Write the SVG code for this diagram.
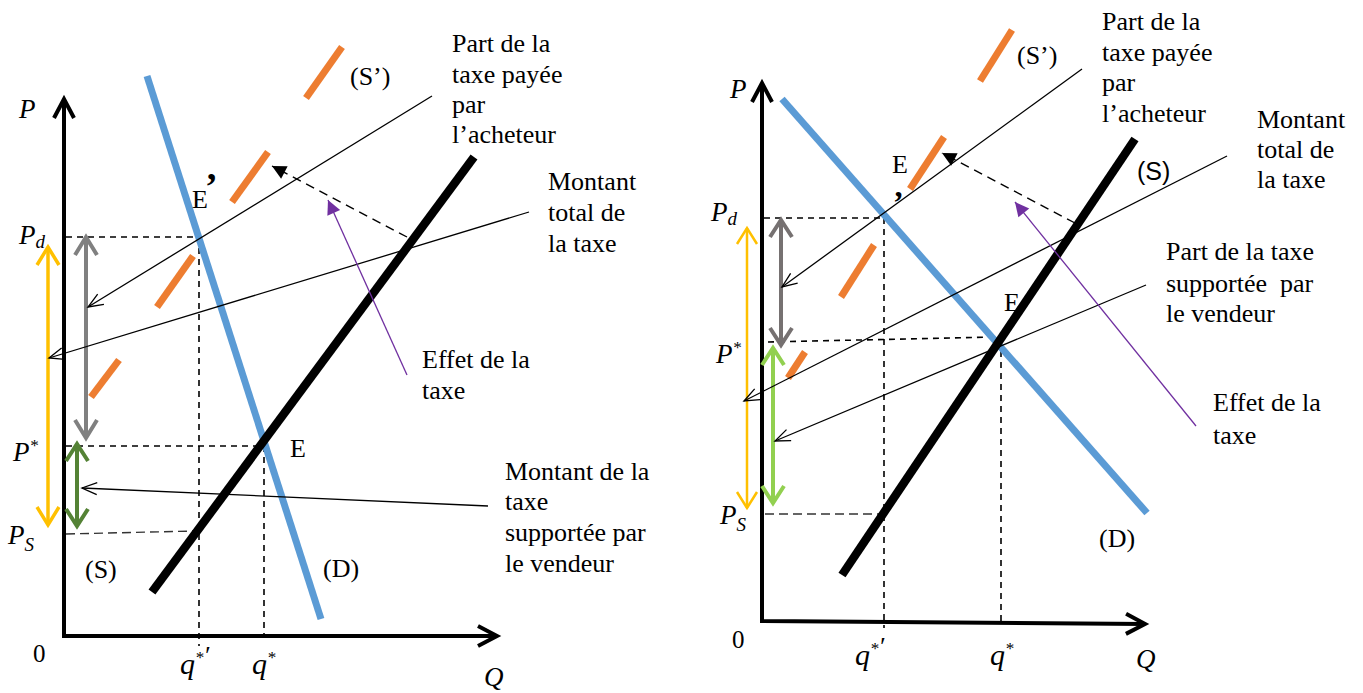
<svg xmlns="http://www.w3.org/2000/svg" width="1363" height="693" viewBox="0 0 1363 693">
<style>
.lbl{font-family:"Liberation Serif","Times New Roman",serif;font-size:26px;fill:#000;white-space:pre}
.math{font-family:"Liberation Serif","Times New Roman",serif;font-style:italic;font-size:27px;fill:#000}
.sans{font-family:"Liberation Sans",Arial,sans-serif;font-size:25px;fill:#000}
.axis{stroke:#000;stroke-width:4;fill:none;stroke-linejoin:miter}
.dash{stroke:#000;stroke-width:1.6;stroke-dasharray:6 5;fill:none}
.dashL{stroke:#333;stroke-width:1.4;stroke-dasharray:9 5;fill:none}
.D{stroke:#5B9BD5;stroke-width:7}
.S{stroke:#000;stroke-width:8.5}
.Sp{stroke:#ED7D31;stroke-width:7}
.conn{stroke:#000;stroke-width:1.3;fill:none}
.eff{stroke:#7030A0;stroke-width:1.3;fill:none}
.shift{stroke:#000;stroke-width:1.4;stroke-dasharray:9 6;fill:none}
.yel{stroke:#FFC000;stroke-width:3.5}
.yelT{stroke:#FFC000;stroke-width:2.5}
.gry{stroke:#808080;stroke-width:4}
.gryR{stroke:#767171;stroke-width:4}
.grn{stroke:#548235;stroke-width:4}
.lgrn{stroke:#92D050;stroke-width:4}
.sub{font-size:19px}
.sup{font-size:17px}
.q{font-size:30px}
.zero{font-size:25px}
.prime{font-weight:bold}
</style>
<defs>
<marker id="axh" markerUnits="userSpaceOnUse" markerWidth="40" markerHeight="40" refX="0" refY="0" orient="auto-start-reverse" overflow="visible"><path d="M-19,-10 L0,0 L-19,10" fill="none" stroke="#000" stroke-width="4"/></marker>
<marker id="open" markerUnits="userSpaceOnUse" markerWidth="30" markerHeight="30" refX="0" refY="0" orient="auto" overflow="visible"><path d="M-15,-6 L0,0 L-15,6" fill="none" stroke="#000" stroke-width="1.3"/></marker>
<marker id="triP" markerUnits="userSpaceOnUse" markerWidth="30" markerHeight="30" refX="0" refY="0" orient="auto" overflow="visible"><path d="M-14,-7 L0,0 L-14,7 Z" fill="#7030A0"/></marker>
<marker id="triK" markerUnits="userSpaceOnUse" markerWidth="30" markerHeight="30" refX="0" refY="0" orient="auto" overflow="visible"><path d="M-14,-7 L0,0 L-14,7 Z" fill="#000"/></marker>
<marker id="chY" markerUnits="userSpaceOnUse" markerWidth="40" markerHeight="40" refX="0" refY="0" orient="auto-start-reverse" overflow="visible"><path d="M-18,-11 L0,0 L-18,11" fill="none" stroke="#FFC000" stroke-width="3.5"/></marker>
<marker id="chYT" markerUnits="userSpaceOnUse" markerWidth="40" markerHeight="40" refX="0" refY="0" orient="auto-start-reverse" overflow="visible"><path d="M-16,-10 L0,0 L-16,10" fill="none" stroke="#FFC000" stroke-width="2.5"/></marker>
<marker id="chG" markerUnits="userSpaceOnUse" markerWidth="40" markerHeight="40" refX="0" refY="0" orient="auto-start-reverse" overflow="visible"><path d="M-18,-11 L0,0 L-18,11" fill="none" stroke="#808080" stroke-width="4"/></marker>
<marker id="chGR" markerUnits="userSpaceOnUse" markerWidth="40" markerHeight="40" refX="0" refY="0" orient="auto-start-reverse" overflow="visible"><path d="M-17,-11 L0,0 L-17,11" fill="none" stroke="#767171" stroke-width="4"/></marker>
<marker id="chN" markerUnits="userSpaceOnUse" markerWidth="40" markerHeight="40" refX="0" refY="0" orient="auto-start-reverse" overflow="visible"><path d="M-17,-11 L0,0 L-17,11" fill="none" stroke="#548235" stroke-width="4"/></marker>
<marker id="chL" markerUnits="userSpaceOnUse" markerWidth="40" markerHeight="40" refX="0" refY="0" orient="auto-start-reverse" overflow="visible"><path d="M-17,-11 L0,0 L-17,11" fill="none" stroke="#92D050" stroke-width="4"/></marker>
</defs>

<!-- ============ LEFT CHART ============ -->
<g id="left-axes">
<path class="axis" d="M64,99 L64,636 L497,636" marker-start="url(#axh)" marker-end="url(#axh)"/>
<text class="math" x="19" y="118">P</text>
<text class="math" x="19" y="244">P<tspan class="sub" dy="4">d</tspan></text>
<text class="math" x="13" y="461">P<tspan class="sup" dy="-10">*</tspan></text>
<text class="math" x="8" y="544">P<tspan class="sub" dy="7">S</tspan></text>
<text class="lbl zero" x="33" y="662">0</text>
<text class="math q" x="180" y="674">q<tspan class="sup" dy="-11">*</tspan><tspan dy="1" style="font-size:26px">′</tspan></text>
<text class="math q" x="252" y="674">q<tspan class="sup" dy="-11">*</tspan></text>
<text class="math" x="484" y="686">Q</text>
</g>
<g id="left-guides">
<path class="dash" d="M66,237 H200"/>
<path class="dash" d="M199,237 V646"/>
<path class="dash" d="M66,446 H263"/>
<path class="dash" d="M264,446 V636"/>
<path class="dashL" d="M66,534 L195,531"/>
</g>
<g id="left-demand">
<line class="D" x1="147" y1="76" x2="321" y2="619"/>
<text class="lbl" x="323" y="577">(D)</text>
</g>
<g id="left-supply">
<line class="S" x1="152" y1="592" x2="474" y2="157"/>
<text class="lbl" x="85" y="578">(S)</text>
</g>
<g id="left-supply-tax">
<line class="Sp" x1="306" y1="98" x2="342" y2="47"/>
<line class="Sp" x1="232" y1="202" x2="268" y2="152"/>
<line class="Sp" x1="157" y1="307" x2="193" y2="256"/>
<line class="Sp" x1="91" y1="397" x2="119" y2="360"/>
<text class="lbl" x="350" y="85">(S’)</text>
</g>
<g id="left-eq">
<text class="lbl" x="192" y="208">E<tspan class="prime" dx="-3" dy="-9" style="font-size:38px">’</tspan></text>
<text class="lbl" x="290" y="457">E</text>
</g>
<g id="left-brackets">
<line class="yel" x1="48" y1="247" x2="48" y2="525" marker-start="url(#chY)" marker-end="url(#chY)"/>
<line class="gry" x1="86" y1="237" x2="86" y2="438" marker-start="url(#chG)" marker-end="url(#chG)"/>
<line class="grn" x1="77" y1="444" x2="77" y2="526" marker-start="url(#chN)" marker-end="url(#chN)"/>
</g>
<g id="left-labels">
<text class="lbl"><tspan x="452" y="52">Part de la</tspan><tspan x="452" y="83">taxe payée</tspan><tspan x="452" y="113">par</tspan><tspan x="452" y="143">l’acheteur</tspan></text>
<text class="lbl"><tspan x="548" y="190">Montant</tspan><tspan x="548" y="221">total de</tspan><tspan x="548" y="252">la taxe</tspan></text>
<text class="lbl"><tspan x="422" y="368">Effet de la</tspan><tspan x="422" y="399">taxe</tspan></text>
<text class="lbl"><tspan x="505" y="480">Montant de la</tspan><tspan x="505" y="510">taxe</tspan><tspan x="505" y="541">supportée par</tspan><tspan x="505" y="572">le vendeur</tspan></text>
</g>
<g id="left-connectors">
<path class="conn" d="M432,96 L88,307" marker-end="url(#open)"/>
<path class="conn" d="M529,212 L49,358" marker-end="url(#open)"/>
<path class="conn" d="M488,506 L82,488" marker-end="url(#open)"/>
<path class="eff" d="M407,375 L328,200" marker-end="url(#triP)"/>
<path class="shift" d="M407,237 L272,166" marker-end="url(#triK)"/>
</g>

<!-- ============ RIGHT CHART ============ -->
<g id="right-axes">
<path class="axis" d="M762,83 L762,621 L1145,624" marker-start="url(#axh)" marker-end="url(#axh)"/>
<text class="math" x="730" y="98">P</text>
<text class="math" x="711" y="221">P<tspan class="sub" dy="4">d</tspan></text>
<text class="math" x="716" y="363">P<tspan class="sup" dy="-10">*</tspan></text>
<text class="math" x="720" y="524">P<tspan class="sub" dy="7">S</tspan></text>
<text class="lbl zero" x="732" y="648">0</text>
<text class="math q" x="855" y="665">q<tspan class="sup" dy="-11">*</tspan><tspan dy="1" style="font-size:26px">′</tspan></text>
<text class="math q" x="990" y="665">q<tspan class="sup" dy="-11">*</tspan></text>
<text class="math" x="1136" y="668">Q</text>
</g>
<g id="right-guides">
<path class="dash" d="M764,218 H885"/>
<path class="dash" d="M884,218 V628"/>
<path class="dash" d="M768,342 L996,337"/>
<path class="dash" d="M1001,340 V621"/>
<path class="dashL" d="M765,514 H880"/>
</g>
<g id="right-demand">
<line class="D" x1="782" y1="99" x2="1147" y2="513"/>
<text class="lbl" x="1099" y="547">(D)</text>
</g>
<g id="right-supply">
<line class="S" x1="842" y1="575" x2="1135" y2="139"/>
<text class="sans" x="1137" y="180">(S)</text>
</g>
<g id="right-supply-tax">
<line class="Sp" x1="980" y1="81" x2="1012" y2="30"/>
<line class="Sp" x1="910" y1="189" x2="944" y2="137"/>
<line class="Sp" x1="841" y1="297" x2="874" y2="245"/>
<line class="Sp" x1="788" y1="378" x2="805" y2="352"/>
<text class="lbl" x="1017" y="64">(S’)</text>
</g>
<g id="right-eq">
<text class="lbl" x="892" y="173">E<tspan class="prime" x="893" y="213" style="font-size:32px">’</tspan></text>
<text class="lbl" x="1004" y="311">E</text>
</g>
<g id="right-brackets">
<line class="yelT" x1="747" y1="228" x2="747" y2="508" marker-start="url(#chYT)" marker-end="url(#chYT)"/>
<line class="gryR" x1="781" y1="220" x2="781" y2="345" marker-start="url(#chGR)" marker-end="url(#chGR)"/>
<line class="lgrn" x1="773" y1="348" x2="773" y2="503" marker-start="url(#chL)" marker-end="url(#chL)"/>
</g>
<g id="right-labels">
<text class="lbl"><tspan x="1102" y="30">Part de la</tspan><tspan x="1102" y="61">taxe payée</tspan><tspan x="1102" y="91">par</tspan><tspan x="1102" y="122">l’acheteur</tspan></text>
<text class="lbl"><tspan x="1257" y="128">Montant</tspan><tspan x="1257" y="158">total de</tspan><tspan x="1257" y="188">la taxe</tspan></text>
<text class="lbl"><tspan x="1166" y="260">Part de la taxe</tspan><tspan x="1166" y="292">supportée  par</tspan><tspan x="1166" y="322">le vendeur</tspan></text>
<text class="lbl"><tspan x="1213" y="411">Effet de la</tspan><tspan x="1213" y="444">taxe</tspan></text>
</g>
<g id="right-connectors">
<path class="conn" d="M1082,69 L782,287" marker-end="url(#open)"/>
<path class="conn" d="M1227,156 L744,401" marker-end="url(#open)"/>
<path class="conn" d="M1146,285 L775,441" marker-end="url(#open)"/>
<path class="eff" d="M1196,426 L1015,202" marker-end="url(#triP)"/>
<path class="shift" d="M1075,223 L942,153" marker-end="url(#triK)"/>
</g>
</svg>
